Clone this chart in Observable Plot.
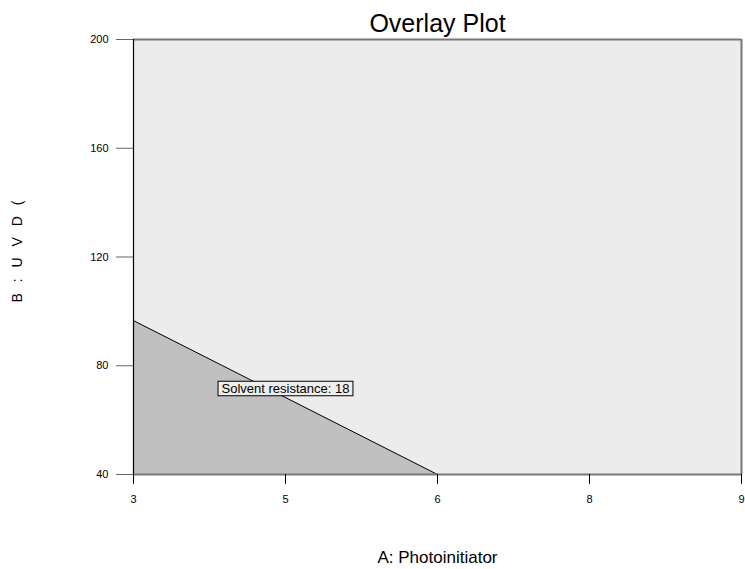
<!DOCTYPE html>
<html><head><meta charset="utf-8">
<script src="https://cdn.jsdelivr.net/npm/d3@7"></script>
<script src="https://cdn.jsdelivr.net/npm/@observablehq/plot@0.6"></script>
<style>body{margin:0;background:#fff}</style>
</head><body><div id="chart"></div>
<script>
const title = "Overlay Plot";
const xLabel = "A: Photoinitiator";
const yLabel = "B : U V D (";
const xDomain = [3, 9];
const yDomain = [40, 200];
const xTicks = [3, 4.5, 6, 7.5, 9];
const xTickLabels = ["3", "5", "6", "8", "9"];
const yTicks = [40, 80, 120, 160, 200];
const boundaryA = [3, 6];
const boundaryB = [96.6, 40];
const annotText = ["Solvent resistance: 18"];
const annotA = [4.5];
const annotB = [71.6];

const FONT = "'Liberation Sans', Arial, Helvetica, sans-serif";
const boundary = boundaryA.map((a, i) => ({a, b: boundaryB[i]}));
const annot = annotText.map((t, i) => ({t, a: annotA[i], b: annotB[i]}));

const chart = Plot.plot({
  width: 745, height: 569,
  marginLeft: 133, marginRight: 4, marginTop: 39, marginBottom: 95,
  style: {fontFamily: FONT, fontSize: "11px", background: "#fff", color: "#000", overflow: "visible"},
  x: {domain: xDomain, label: null},
  y: {domain: yDomain, label: null},
  marks: [
    Plot.rect([{}], {x1: xDomain[0], x2: xDomain[1], y1: yDomain[0], y2: yDomain[1], fill: "#ececec"}),
    Plot.areaY(boundary, {x: "a", y1: yDomain[0], y2: "b", fill: "#c0c0c0"}),
    Plot.line(boundary, {x: "a", y: "b", stroke: "#000", strokeWidth: 1}),
    Plot.ruleY([yDomain[0], yDomain[1]], {stroke: "#777", strokeWidth: 2}),
    Plot.ruleX([xDomain[1]], {stroke: "#777", strokeWidth: 2}),
    Plot.ruleX([xDomain[0]], {stroke: "#000", strokeWidth: 1.2}),
    Plot.axisX({ticks: xTicks, tickFormat: d => xTickLabels[xTicks.indexOf(d)], tickSize: 10, tickPadding: 11, stroke: "#000", fontSize: 11, label: null}),
    Plot.axisY({ticks: yTicks, tickSize: 17, tickPadding: 8, stroke: "#666", fontSize: 11, label: null}),
    Plot.text(annot, {x: "a", y: "b", text: "t", fontSize: 13, fill: "#000", className: "annot"}),
    Plot.text([title], {frameAnchor: "top", dy: -16, lineAnchor: "middle", fontSize: 25, fill: "#000"}),
    Plot.text([xLabel], {frameAnchor: "bottom", dy: 83, lineAnchor: "middle", fontSize: 17, fill: "#000"}),
    Plot.text([yLabel], {frameAnchor: "left", dx: -115.5, dy: 45.5, rotate: -90, lineAnchor: "middle", fontSize: 14, fill: "#000", className: "ylab"})
  ]
});
document.getElementById("chart").appendChild(chart);

d3.select(chart).selectAll("g.ylab text").style("letter-spacing", "3.5px");
// box behind annotation
d3.select(chart).selectAll("g.annot text").each(function() {
  const bb = this.getBBox();
  const t = this.getAttribute("transform");
  const g = this.parentNode;
  const r = document.createElementNS("http://www.w3.org/2000/svg", "rect");
  r.setAttribute("x", bb.x - 3.5);
  r.setAttribute("y", bb.y + 0.5);
  r.setAttribute("width", bb.width + 7);
  r.setAttribute("height", bb.height - 0.5);
  r.setAttribute("fill", "#eeeeee");
  r.setAttribute("stroke", "#000");
  r.setAttribute("stroke-width", "1");
  if (t) r.setAttribute("transform", t);
  g.insertBefore(r, this);
});
</script>
</body></html>
